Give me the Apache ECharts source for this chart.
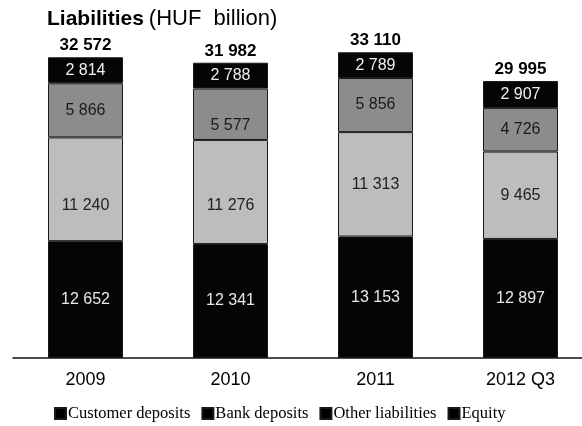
<!DOCTYPE html>
<html>
<head>
<meta charset="utf-8">
<script src="https://cdn.jsdelivr.net/npm/echarts@6/dist/echarts.min.js"></script>
<style>
  html, body { margin: 0; padding: 0; background: #fff; }
  #chart { width: 582px; height: 426px; }
</style>
</head>
<body>
<div id="chart"></div>
<script>
// Banking sector liabilities, HUF billion
const categories = ['2009', '2010', '2011', '2012 Q3'];
const customerDeposits = [12652, 12341, 13153, 12897];
const bankDeposits = [11240, 11276, 11313, 9465];
const otherLiabilities = [5866, 5577, 5856, 4726];
const equity = [2814, 2788, 2789, 2907];
const totals = [32572, 31982, 33110, 29995];
const seriesNames = ['Customer deposits', 'Bank deposits', 'Other liabilities', 'Equity'];

const SANS = 'Arial, "Liberation Sans", Helvetica, sans-serif';
const SERIF = '"Liberation Serif", "DejaVu Serif", serif';

// thousands grouped with a space
const fmt = v => String(v).replace(/\B(?=(\d{3})+(?!\d))/g, ' ');

const BAR_W = 75;

// a few value labels sit lower inside their segment (series index -> {category index: dy})
const labelNudge = {
  1: { 0: 16, 1: 14 },
  2: { 1: 11 }
};

function segment(idx, data, fill, textColor) {
  const nudge = labelNudge[idx] || {};
  return {
    name: seriesNames[idx],
    type: 'bar',
    stack: 'liab',
    barWidth: BAR_W,
    data: data.map((v, i) =>
      nudge[i] ? { value: v, label: { offset: [0, nudge[i]] } } : v
    ),
    itemStyle: { color: fill, borderColor: '#1a1a1a', borderWidth: 1 },
    label: {
      show: true,
      position: 'inside',
      formatter: p => fmt(p.value),
      color: textColor,
      fontFamily: SANS,
      fontSize: 16
    },
    emphasis: { disabled: true }
  };
}

const chart = echarts.init(document.getElementById('chart'), null, { renderer: 'canvas' });

chart.setOption({
  animation: false,
  backgroundColor: '#fff',
  title: {
    text: '{b|Liabilities} {r|(HUF  billion)}',
    left: 42,
    top: 3,
    textStyle: {
      rich: {
        b: { fontFamily: SANS, fontWeight: 'bold', fontSize: 21, color: '#000' },
        r: { fontFamily: SANS, fontWeight: 'normal', fontSize: 22, color: '#000' }
      }
    }
  },
  legend: {
    data: seriesNames.map(n => ({ name: n, itemStyle: { color: '#000' } })),
    left: 49,
    top: 400,
    icon: 'rect',
    itemWidth: 11,
    itemHeight: 11,
    itemGap: 11,
    selectedMode: false,
    textStyle: {
      fontFamily: SERIF,
      fontSize: 16.5,
      color: '#000',
      padding: [0, 0, 0, -3]
    }
  },
  // the plot area runs a little past the right edge, so the last bar sits near it
  grid: {
    left: 13, width: 580, top: 9, bottom: 68,
    containLabel: false,
    outerBoundsMode: 'none'
  },
  xAxis: {
    type: 'category',
    data: categories,
    axisTick: { show: false },
    axisLine: { show: true, lineStyle: { color: '#111', width: 1.5 } },
    axisLabel: { fontFamily: SANS, fontSize: 18, color: '#000', margin: 13 }
  },
  yAxis: {
    type: 'value',
    min: 0,
    max: 37800,
    show: false,
    splitLine: { show: false }
  },
  series: [
    segment(0, customerDeposits, '#050505', '#e8e8e8'),
    segment(1, bankDeposits, '#bdbdbd', '#222'),
    segment(2, otherLiabilities, '#8c8c8c', '#1a1a1a'),
    segment(3, equity, '#050505', '#f0f0f0'),
    {
      name: 'Total',
      type: 'bar',
      barWidth: BAR_W,
      barGap: '-100%',
      z: 1,
      silent: true,
      data: totals,
      itemStyle: { color: 'rgba(0,0,0,0)' },
      label: {
        show: true,
        position: 'top',
        distance: 3,
        formatter: p => fmt(p.value),
        fontFamily: SANS,
        fontWeight: 'bold',
        fontSize: 17,
        color: '#000'
      }
    }
  ]
});
</script>
</body>
</html>
